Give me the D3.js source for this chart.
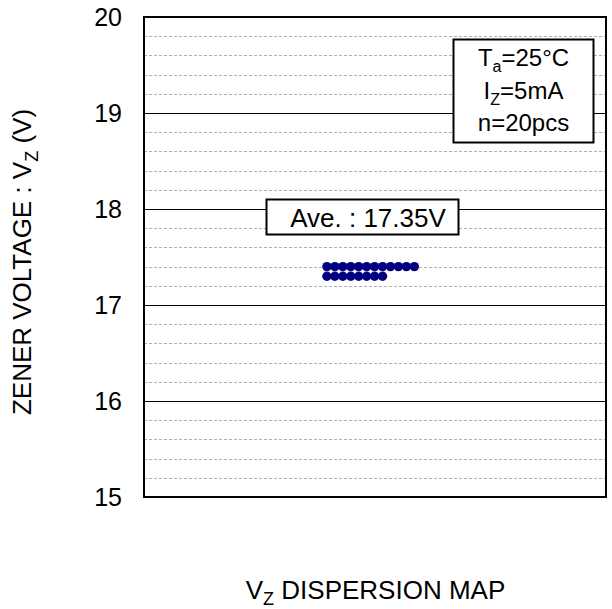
<!DOCTYPE html>
<html><head><meta charset="utf-8">
<script src="https://cdn.jsdelivr.net/npm/d3@7"></script>
<style>body{margin:0;background:#fff}text{font-family:"Liberation Sans",Arial,sans-serif;fill:#000}</style>
</head><body><svg id="c" width="612" height="609"></svg>
<script>
const yTicks = [15, 16, 17, 18, 19, 20];
const rowValues = [17.4, 17.3];
const rowCounts = [12, 8];
const average = "Ave. : 17.35V";
const conditions = [["T", "a", "=25°C"], ["I", "Z", "=5mA"], ["n=20pcs", "", ""]];

const svg = d3.select("#c");
const L = 144, R = 606, T = 17, B = 497;
const FS = "26px", SFS = "18px";
const y = d3.scaleLinear().domain([15, 20]).range([B, T]);
const x = d3.scaleLinear().domain([0, 58.1]).range([L, R]);

// minor grid
const minor = d3.range(15.2, 20, 0.2).filter(v => Math.abs(v - Math.round(v)) > 1e-6);
svg.append("g").selectAll("line").data(minor).join("line")
  .attr("x1", L).attr("x2", R).attr("y1", d => Math.round(y(d)) + 0.5).attr("y2", d => Math.round(y(d)) + 0.5)
  .attr("stroke", "#b0b0b0").attr("stroke-width", 1).attr("stroke-dasharray", "3,2");
// major grid
svg.append("g").selectAll("line").data(yTicks.slice(1, -1)).join("line")
  .attr("x1", L).attr("x2", R).attr("y1", d => Math.round(y(d)) + 0.5).attr("y2", d => Math.round(y(d)) + 0.5)
  .attr("stroke", "#000").attr("stroke-width", 1);

// axis labels
const ax = svg.append("g").attr("transform", `translate(${L},0)`)
  .call(d3.axisLeft(y).tickValues(yTicks).tickSize(0).tickPadding(22).tickFormat(d3.format("d")));
ax.select(".domain").remove();
ax.selectAll("text").style("font-size", "25px").attr("font-family", "Liberation Sans, Arial, sans-serif").attr("dy", "0.33em");

// dots
const pts = [];
rowValues.forEach((v, r) => { for (let i = 0; i < rowCounts[r]; i++) pts.push({i, v}); });
svg.append("g").selectAll("circle").data(pts).join("circle")
  .attr("cx", d => x(23.0 + d.i)).attr("cy", d => y(d.v)).attr("r", 4.7).attr("fill", "#000080");

// average box
svg.append("rect").attr("x", 266.5).attr("y", 199.5).attr("width", 192).attr("height", 35)
  .attr("fill", "#fff").attr("stroke", "#000").attr("stroke-width", 2);
svg.append("text").attr("x", 368).attr("y", 227).attr("text-anchor", "middle").style("font-size", FS).text(average);

// conditions box
svg.append("rect").attr("x", 453.5).attr("y", 39.5).attr("width", 140).attr("height", 103)
  .attr("fill", "#fff").attr("stroke", "#000").attr("stroke-width", 2);
conditions.forEach((c, k) => {
  const t = svg.append("text").attr("x", 523.5).attr("y", 66 + k * 32.5).attr("text-anchor", "middle").style("font-size", "24px");
  t.append("tspan").text(c[0]);
  if (c[1]) {
    t.append("tspan").attr("dy", 6).style("font-size", "16px").text(c[1]);
    t.append("tspan").attr("dy", -6).text(c[2]);
  }
});

// frame
svg.append("rect").attr("x", L).attr("y", T).attr("width", R - L).attr("height", B - T)
  .attr("fill", "none").attr("stroke", "#000").attr("stroke-width", 2);

// y title
const yt = svg.append("text").attr("transform", `translate(31,262) rotate(-90)`)
  .attr("text-anchor", "middle").style("font-size", FS);
yt.append("tspan").text("ZENER VOLTAGE : V");
yt.append("tspan").attr("dy", 7).style("font-size", SFS).text("Z");
yt.append("tspan").attr("dy", -7).text(" (V)");

// x title
const xt = svg.append("text").attr("x", 375.5).attr("y", 599).attr("text-anchor", "middle").style("font-size", FS);
xt.append("tspan").text("V");
xt.append("tspan").attr("dy", 6).style("font-size", SFS).text("Z");
xt.append("tspan").attr("dy", -6).text(" DISPERSION MAP");
</script></body></html>
